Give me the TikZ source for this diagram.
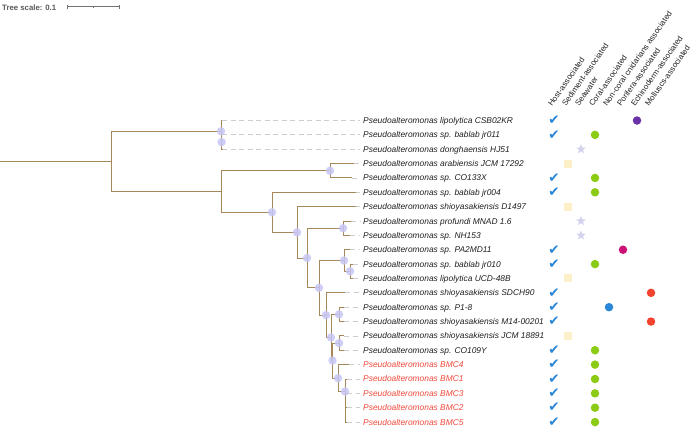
\documentclass[tikz,border=0pt]{standalone}
\usepackage{fontspec}
\setmainfont{Liberation Sans}
\newfontfamily\dejavu{DejaVu Sans}
\usetikzlibrary{shapes.geometric}
\definecolor{brc}{HTML}{A6875A}
\definecolor{bubc}{HTML}{C6C6F6}
\definecolor{dshc}{HTML}{CDCDCD}
\definecolor{chkc}{HTML}{2A86D6}
\definecolor{grnc}{HTML}{8CCB14}
\definecolor{strc}{HTML}{D3D3EE}
\definecolor{sqc}{HTML}{FDEFC7}
\definecolor{prpc}{HTML}{6A32A6}
\definecolor{magc}{HTML}{CC1277}
\definecolor{bluc}{HTML}{2A86D6}
\definecolor{rdc}{HTML}{F2432F}
\definecolor{lblred}{HTML}{F0483A}
\begin{document}
\begin{tikzpicture}[x=1pt,y=-1pt,
  brl/.style={draw=brc, line width=0.9pt},
  tipdash/.style={draw=dshc, line width=0.8pt, dash pattern=on 5pt off 3.5pt},
  bubl/.style={circle, fill=bubc, fill opacity=0.85, inner sep=0, minimum size=8.5pt},
  lbl/.style={anchor=base west, font=\fontsize{8.4}{10}\selectfont\itshape, text=black!88, inner sep=0},
  hdr/.style={anchor=base west, rotate=55, font=\fontsize{8}{9}\selectfont, text=black!85, inner sep=0},
  chk/.style={font=\dejavu\fontsize{13.5}{13.5}\selectfont, text=chkc, inner sep=0},
  sqm/.style={rectangle, fill=sqc, inner sep=0, minimum size=8pt},
  stm/.style={star, star points=5, star point ratio=2.3, fill=strc, inner sep=0, minimum size=10pt},
  dotm/.style={circle, inner sep=0, minimum size=8.5pt}
]
\useasboundingbox (0,0) rectangle (696,429);

% tree scale
\node[anchor=base west, font=\bfseries\fontsize{7.8}{9}\selectfont, text=black!65, inner sep=0] (ts) at (2,10) {Tree scale: 0.1};
\coordinate (sb1) at (67,6.5);
\coordinate (sbm) at (93,6.5);
\coordinate (sb2) at (119,6.5);
\draw[black!55, line width=0.6pt] (sb1) -- (sb2);
\draw[black!55, line width=0.6pt] ([yshift=-2pt]sb1) -- ([yshift=2pt]sb1);
\draw[black!55, line width=0.6pt] ([yshift=-2pt]sb2) -- ([yshift=2pt]sb2);
\draw[black!55, line width=0.6pt] ([yshift=-1pt]sbm) -- ([yshift=1pt]sbm);

% rows: index / tip x / label / colour
\foreach \i/\tx/\nm/\cl in {
 1/222/{lipolytica CSB02KR}/black!88,
 2/222/{sp. bablab jr011}/black!88,
 3/222/{donghaensis HJ51}/black!88,
 4/354/{arabiensis JCM 17292}/black!88,
 5/352/{sp. CO133X}/black!88,
 6/356/{sp. bablab jr004}/black!88,
 7/356/{shioyasakiensis D1497}/black!88,
 8/351/{profundi MNAD 1.6}/black!88,
 9/350/{sp. NH153}/black!88,
 10/350/{sp. PA2MD11}/black!88,
 11/353/{sp. bablab jr010}/black!88,
 12/353/{lipolytica UCD-48B}/black!88,
 13/345/{shioyasakiensis SDCH90}/black!88,
 14/344/{sp. P1-8}/black!88,
 15/344/{shioyasakiensis M14-00201}/black!88,
 16/344/{shioyasakiensis JCM 18891}/black!88,
 17/344/{sp. CO109Y}/black!88,
 18/349/{BMC4}/lblred,
 19/347/{BMC1}/lblred,
 20/347/{BMC3}/lblred,
 21/347/{BMC2}/lblred,
 22/347/{BMC5}/lblred}{
  \pgfmathsetmacro\yy{120.5+(\i-1)*14.36}
  \coordinate (tp\i) at (\tx,\yy);
  \coordinate (de\i) at (360,\yy);
  \draw[tipdash] (tp\i) -- (de\i);
  \node[lbl, text=\cl] (lb\i) at (363,\yy+3) {Pseudoalteromonas \nm};
}

% internal nodes
\coordinate (root) at (0,161.4);
\coordinate (n0) at (111,161.4);
\coordinate (A) at (221,131.27);
\coordinate (A2) at (221.6,142.04);
\coordinate (B) at (221,191.54);
\coordinate (C) at (330,170.76);
\coordinate (D) at (272,212.32);
\coordinate (E) at (297,232.34);
\coordinate (F) at (307,258.02);
\coordinate (G) at (343,228.2);
\coordinate (H) at (319,287.83);
\coordinate (I) at (344,260.51);
\coordinate (J) at (350,271.28);
\coordinate (K) at (326,315.15);
\coordinate (Kp) at (331,337.47);
\coordinate (L) at (339,314.36);
\coordinate (P) at (332.5,360.58);
\coordinate (Q) at (339,343.08);
\coordinate (R) at (338,378.08);
\coordinate (S) at (345,391.55);
\coordinate (S2) at (345.3,404.11);
\coordinate (S3) at (345.6,414.88);

\draw[brl] (root) -- (n0);
\draw[brl] (n0) |- (A);  \draw[brl] (n0) |- (B);
\draw[brl] (A) |- (tp1); \draw[brl] (A) |- (A2);
\draw[brl] (A2) |- (tp2); \draw[brl] (A2) |- (tp3);
\draw[brl] (B) |- (C);   \draw[brl] (B) |- (D);
\draw[brl] (C) |- (tp4); \draw[brl] (C) |- (tp5);
\draw[brl] (D) |- (tp6); \draw[brl] (D) |- (E);
\draw[brl] (E) |- (tp7); \draw[brl] (E) |- (F);
\draw[brl] (F) |- (G);   \draw[brl] (F) |- (H);
\draw[brl] (G) |- (tp8); \draw[brl] (G) |- (tp9);
\draw[brl] (H) |- (I);   \draw[brl] (H) |- (K);
\draw[brl] (I) |- (tp10); \draw[brl] (I) |- (J);
\draw[brl] (J) |- (tp11); \draw[brl] (J) |- (tp12);
\draw[brl] (K) |- (tp13); \draw[brl] (K) |- (Kp);
\draw[brl] (Kp) |- (L);  \draw[brl] (Kp) |- (P);
\draw[brl] (L) |- (tp14); \draw[brl] (L) |- (tp15);
\draw[brl] (P) |- (Q);   \draw[brl] (P) |- (R);
\draw[brl] (Q) |- (tp16); \draw[brl] (Q) |- (tp17);
\draw[brl] (R) |- (tp18); \draw[brl] (R) |- (S);
\draw[brl] (S) |- (tp19); \draw[brl] (S) |- (S2);
\draw[brl] (S2) |- (tp20); \draw[brl] (S2) |- (S3);
\draw[brl] (S3) |- (tp21); \draw[brl] (S3) |- (tp22);

% support bubbles
\foreach \n in {A,A2,C,D,E,F,G,H,I,J,K,Kp,L,P,Q,R,S}{
  \node[bubl] (bb\n) at (\n) {};
}

% column headers
\node[hdr] (h1) at (552,107) {Host-associated};
\node[hdr] (h2) at (566,107) {Sediment-associated};
\node[hdr] (h3) at (579,107) {Seawater};
\node[hdr] (h4) at (593,107) {Coral-associated};
\node[hdr] (h5) at (607,107) {Non-coral cnidarians associated};
\node[hdr] (h6) at (621,107) {Porifera-associated};
\node[hdr] (h7) at (635,107) {Echinoderm-associated};
\node[hdr] (h8) at (649,107) {Molluscs-associated};

% markers
\foreach \i in {1,2,5,6,10,11,13,14,15,17,18,19,20,21,22}{
  \pgfmathsetmacro\yy{120.5+(\i-1)*14.36}
  \node[chk] (ck\i) at (554,\yy) {✔};
}
\foreach \i in {4,7,12,16}{
  \pgfmathsetmacro\yy{120.5+(\i-1)*14.36}
  \node[sqm] (sq\i) at (568,\yy) {};
}
\foreach \i in {3,8,9}{
  \pgfmathsetmacro\yy{120.5+(\i-1)*14.36}
  \node[stm] (st\i) at (581,\yy) {};
}
\foreach \i in {2,5,6,11,17,18,19,20,21,22}{
  \pgfmathsetmacro\yy{120.5+(\i-1)*14.36}
  \node[dotm, fill=grnc] (gr\i) at (595,\yy) {};
}
\node[dotm, fill=prpc] (pu1) at (637,120.5) {};
\node[dotm, fill=magc] (mg10) at (623,249.74) {};
\node[dotm, fill=bluc] (bl14) at (609,307.18) {};
\node[dotm, fill=rdc] (rd13) at (651,292.82) {};
\node[dotm, fill=rdc] (rd15) at (651,321.54) {};
\end{tikzpicture}
\end{document}
